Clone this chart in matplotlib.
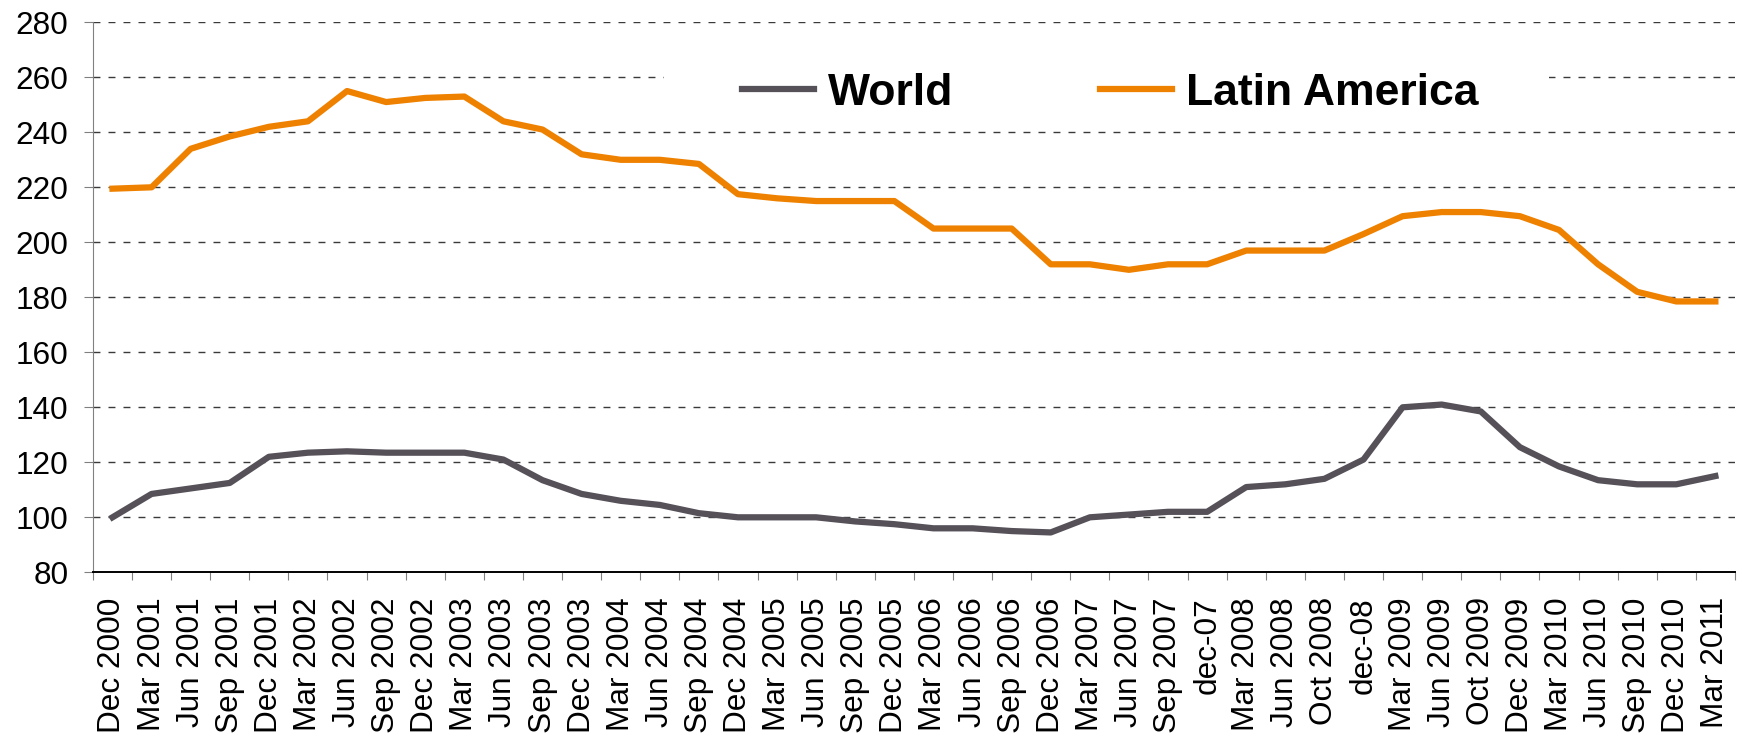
import numpy as np
import matplotlib
matplotlib.use("Agg")
import matplotlib.pyplot as plt
from matplotlib.patches import Rectangle

plt.rcParams['font.family'] = ['Liberation Sans', 'DejaVu Sans']
plt.rcParams['lines.scale_dashes'] = False

quarters = ['Dec 2000', 'Mar 2001', 'Jun 2001', 'Sep 2001', 'Dec 2001',
            'Mar 2002', 'Jun 2002', 'Sep 2002', 'Dec 2002', 'Mar 2003',
            'Jun 2003', 'Sep 2003', 'Dec 2003', 'Mar 2004', 'Jun 2004',
            'Sep 2004', 'Dec 2004', 'Mar 2005', 'Jun 2005', 'Sep 2005',
            'Dec 2005', 'Mar 2006', 'Jun 2006', 'Sep 2006', 'Dec 2006',
            'Mar 2007', 'Jun 2007', 'Sep 2007', 'dec-07', 'Mar 2008',
            'Jun 2008', 'Oct 2008', 'dec-08', 'Mar 2009', 'Jun 2009',
            'Oct 2009', 'Dec 2009', 'Mar 2010', 'Jun 2010', 'Sep 2010',
            'Dec 2010', 'Mar 2011']

world = [100, 108.5, 110.5, 112.5, 122, 123.5, 124, 123.5, 123.5, 123.5,
         121, 113.5, 108.5, 106, 104.5, 101.5, 100, 100, 100, 98.5,
         97.5, 96, 96, 95, 94.5, 100, 101, 102, 102, 111,
         112, 114, 121, 140, 141, 138.5, 125.5, 118.5, 113.5, 112,
         112, 115]

latam = [219.5, 220, 234, 238.5, 242, 244, 255, 251, 252.5, 253,
         244, 241, 232, 230, 230, 228.5, 217.5, 216, 215, 215,
         215, 205, 205, 205, 192, 192, 190, 192, 192, 197,
         197, 197, 203, 209.5, 211, 211, 209.5, 204.5, 192, 182,
         178.5, 178.5]

yticks = np.arange(80, 281, 20)

grey = '#565059'
orange = '#EF8100'

fig = plt.figure(figsize=(17.37, 7.36), dpi=100)
ax = fig.add_axes([0.0535, 0.2224, 0.9453, 0.7473])

x = np.arange(len(quarters))

# dashed horizontal grid
for v in yticks[1:]:
    ax.axhline(v, color='#3a3a3a', lw=1.0, dashes=(5.0, 5.8), zorder=1)

# white patch behind the legend hides the gridline there
ax.add_patch(Rectangle((0.348, 0.82), 0.539, 0.11, transform=ax.transAxes,
                       facecolor='white', edgecolor='none', zorder=2))

ax.plot(x, world, color=grey, lw=4.5, label='World', zorder=3)
ax.plot(x, latam, color=orange, lw=4.5, label='Latin America', zorder=3)

ax.set_xlim(-0.5, len(quarters) - 0.5)
ax.set_ylim(80, 280)
ax.set_yticks(yticks)
ax.set_xticks(x)
ax.set_xticklabels(quarters, rotation=90, fontsize=22.7)
ax.set_xticks(np.arange(-0.5, len(quarters)), minor=True)
ax.tick_params(axis='x', which='major', length=0, pad=18)
ax.tick_params(axis='x', which='minor', length=5.8, width=0.8, color='#808080')
ax.tick_params(axis='y', labelsize=22.7, length=6.5, width=0.8, color='#808080', pad=11)

for s in ['top', 'right']:
    ax.spines[s].set_visible(False)
ax.spines['left'].set_color('#808080')
ax.spines['left'].set_linewidth(0.8)
ax.spines['bottom'].set_color('black')
ax.spines['bottom'].set_linewidth(1.4)

leg = ax.legend(loc='center', bbox_to_anchor=(0.6195, 0.871), ncol=2,
                frameon=False, handlelength=1.62, handletextpad=0.32,
                columnspacing=3.3, prop={'size': 32, 'weight': 'bold'})
leg.set_zorder(4)

fig.savefig('out.png', dpi=100)
